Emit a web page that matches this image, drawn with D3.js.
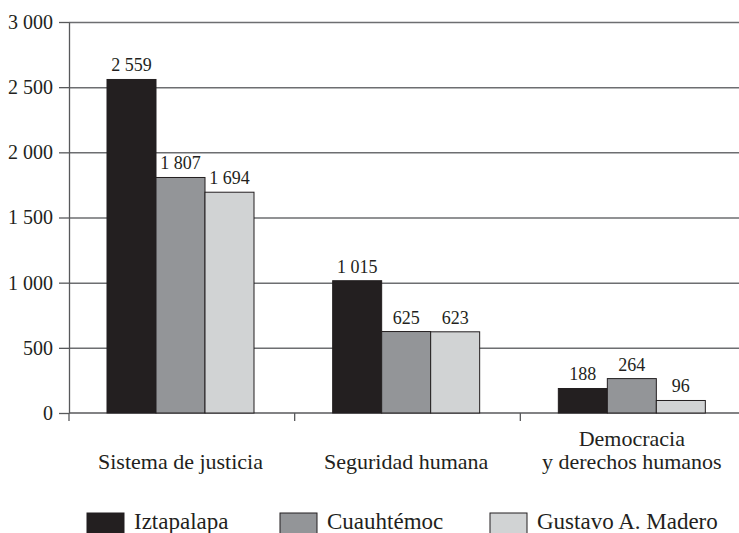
<!DOCTYPE html>
<html lang="es">
<head>
  <meta charset="UTF-8">
  <title>Delitos por alcaldía</title>
  <style>
    body {
      margin: 0;
      padding: 0;
      background: #fff;
    }

    svg text {
      font-family: "Liberation Serif", "Times New Roman", serif;
      fill: #231f20;
    }

    .grid line {
      stroke: #6d6e71;
      stroke-width: 1.5;
    }

    .axis path,
    .axis line {
      stroke: #58595b;
      stroke-width: 1.3;
    }
  </style>
</head>
<body>
  <svg id="bar-chart" width="739" height="533"></svg>
  <script src="https://d3js.org/d3.v7.min.js"></script>
  <script>
    const categories = ['Sistema de justicia', 'Seguridad humana', 'Democracia\ny derechos humanos'];
    const series = ['Iztapalapa', 'Cuauhtémoc', 'Gustavo A. Madero'];
    const iztapalapa = [2559, 1015, 188];
    const cuauhtemoc = [1807, 625, 264];
    const gustavoAMadero = [1694, 623, 96];
    const yTicks = [0, 500, 1000, 1500, 2000, 2500, 3000];
    const colors = ['#231f20', '#939598', '#d1d3d4'];

    const values = [iztapalapa, cuauhtemoc, gustavoAMadero];
    const data = categories.map((c, i) => ({
      category: c,
      bars: series.map((s, j) => ({ series: s, value: values[j][i] }))
    }));

    const chartWidth = 739;
    const plotLeft = 69;
    const plotTop = 22;
    const plotBottom = 413;

    const fmt = d3.formatLocale({ decimal: ',', thousands: ' ', grouping: [3], currency: ['$', ''] }).format(',d');

    const svg = d3.select('#bar-chart');

    const x0 = d3.scaleBand()
      .domain(categories)
      .range([plotLeft, plotLeft + 677]);

    const x1 = d3.scaleBand()
      .domain(series)
      .range([38, 38 + 147]);

    const y = d3.scaleLinear()
      .domain([0, 3000])
      .range([plotBottom, plotTop]);

    // gridlines
    svg.append('g')
      .attr('class', 'grid')
      .attr('transform', `translate(${plotLeft}, 0)`)
      .call(d3.axisLeft(y).tickValues(yTicks.slice(1)).tickSize(-(chartWidth - plotLeft)).tickFormat(''))
      .call(g => g.select('.domain').remove());

    // y axis
    svg.append('g')
      .attr('class', 'axis')
      .attr('transform', `translate(${plotLeft}, 0)`)
      .call(d3.axisLeft(y).tickValues(yTicks).tickSize(10).tickSizeOuter(0).tickPadding(6).tickFormat(fmt))
      .call(g => g.selectAll('text').style('font-size', '20px').attr('fill', '#231f20'));

    // x axis line with ticks at category edges
    const xAxis = svg.append('g').attr('class', 'axis');
    xAxis.append('line')
      .attr('x1', plotLeft)
      .attr('x2', chartWidth)
      .attr('y1', y(0))
      .attr('y2', y(0));
    xAxis.selectAll('.xtick')
      .data(categories)
      .enter()
      .append('line')
      .attr('class', 'xtick')
      .attr('x1', d => x0(d))
      .attr('x2', d => x0(d))
      .attr('y1', y(0))
      .attr('y2', y(0) + 8);

    // bars
    const groups = svg.selectAll('.group')
      .data(data)
      .enter()
      .append('g')
      .attr('class', 'group')
      .attr('transform', d => `translate(${x0(d.category)}, 0)`);

    groups.selectAll('rect')
      .data(d => d.bars)
      .enter()
      .append('rect')
      .attr('x', d => x1(d.series))
      .attr('y', d => y(d.value))
      .attr('width', x1.bandwidth())
      .attr('height', d => y(0) - y(d.value))
      .attr('fill', (d, i) => colors[i])
      .attr('stroke', '#231f20')
      .attr('stroke-width', 1);

    // value labels
    groups.selectAll('.value')
      .data(d => d.bars)
      .enter()
      .append('text')
      .attr('class', 'value')
      .attr('x', d => x1(d.series) + x1.bandwidth() / 2)
      .attr('y', d => y(d.value) - 8)
      .attr('text-anchor', 'middle')
      .style('font-size', '18px')
      .text(d => fmt(d.value));

    // category labels
    groups.append('text')
      .attr('x', x1.range()[0] + (x1.range()[1] - x1.range()[0]) / 2)
      .attr('y', 469)
      .attr('text-anchor', 'middle')
      .style('font-size', '22px')
      .each(function(d) {
        const lines = d.category.split('\n');
        const t = d3.select(this);
        lines.forEach((line, i) => {
          t.append('tspan')
            .attr('x', t.attr('x'))
            .attr('dy', i === 0 ? -(lines.length - 1) * 23 : 23)
            .text(line);
        });
      });

    // legend
    const legendX = [87, 280, 490];
    const legend = svg.selectAll('.legend')
      .data(series)
      .enter()
      .append('g')
      .attr('class', 'legend')
      .attr('transform', (d, i) => `translate(${legendX[i]}, 513)`);

    legend.append('rect')
      .attr('width', 37)
      .attr('height', 22)
      .attr('fill', (d, i) => colors[i])
      .attr('stroke', '#231f20')
      .attr('stroke-width', 1);

    legend.append('text')
      .attr('x', 47)
      .attr('y', 16)
      .style('font-size', '23px')
      .text(d => d);
  </script>
</body>
</html>
